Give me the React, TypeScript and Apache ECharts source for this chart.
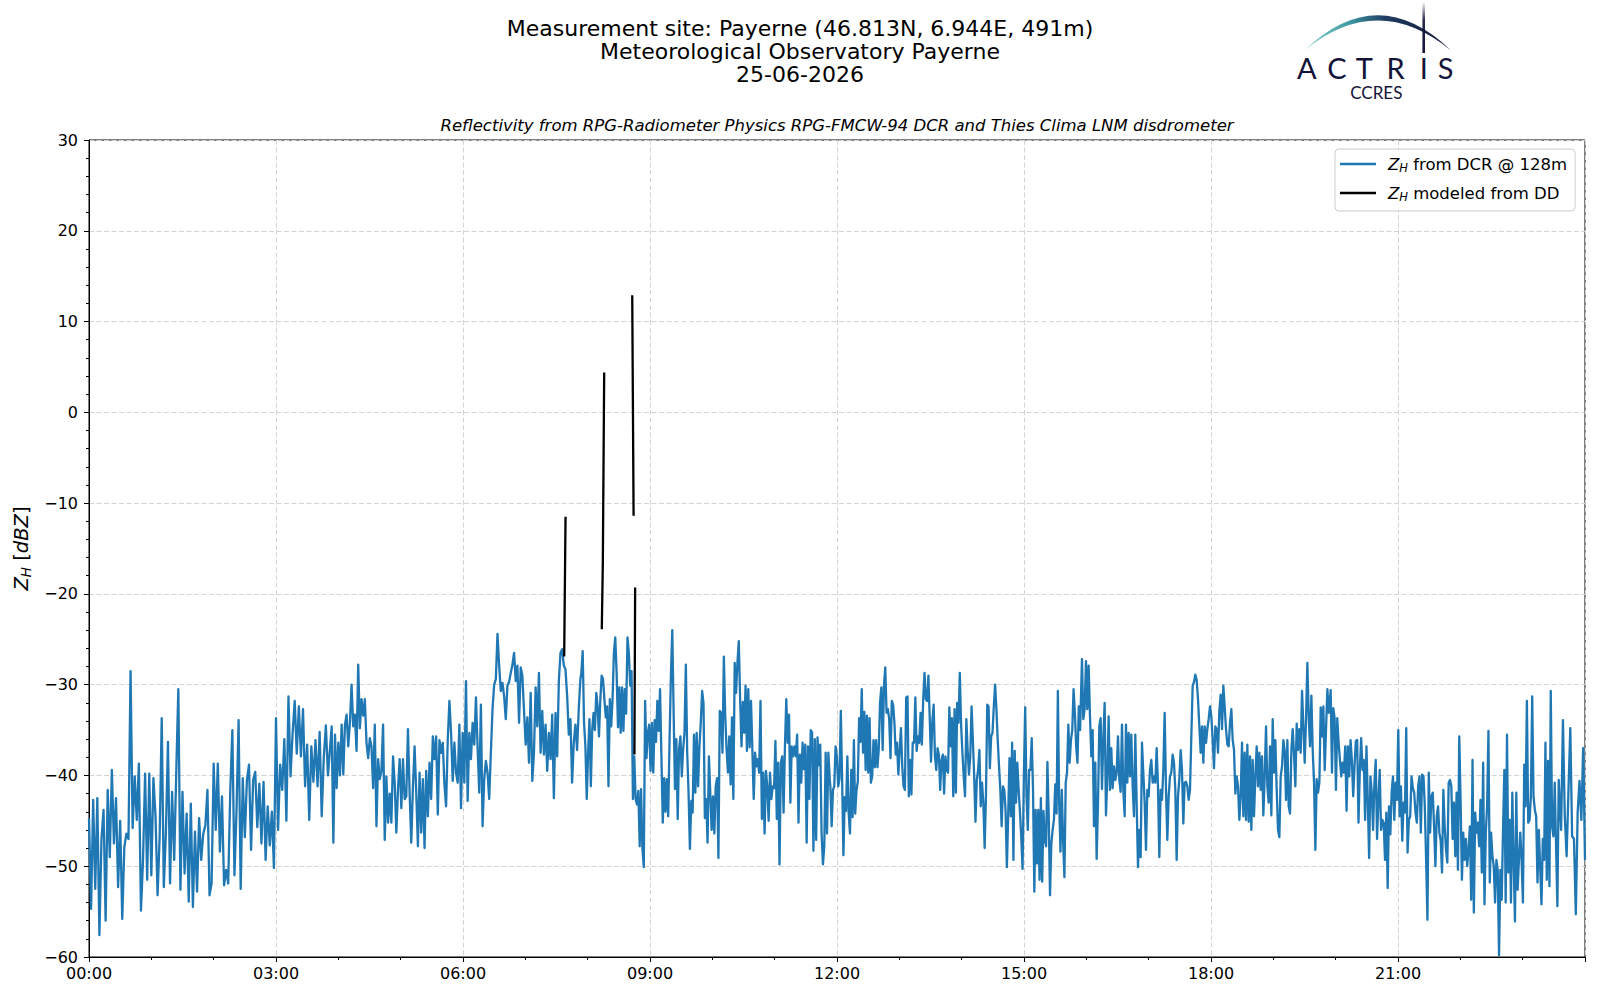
import React, { useEffect, useRef } from 'react';
import * as echarts from 'echarts';

const titleLines = [
  'Measurement site: Payerne (46.813N, 6.944E, 491m)',
  'Meteorological Observatory Payerne',
  '25-06-2026',
];
const subtitle = 'Reflectivity from RPG-Radiometer Physics RPG-FMCW-94 DCR and Thies Clima LNM disdrometer';
const seriesNames = ['dcr', 'dd'];
const legendLabels = ['{i|Z}{s|H}{t| from DCR @ 128m}', '{i|Z}{s|H}{t| modeled from DD}'];
const yAxisName = '{I|Z}{S|H}{T| [}{I|dBZ}{T|]}';
const logoLetters = ['A', 'C', 'T', 'R', 'I', 'S'];
const logoLetterX = [1306.7, 1337, 1364.3, 1395.7, 1423.7, 1445.7];

// time spans (minutes since 00:00) of each block of DCR readings
const dcrSpans = [
  [0, 230],
  [233.6, 473],
  [473.9, 713],
  [713.6, 954],
  [955.8, 1193.3],
  [1193.9, 1414.7],
  [1417, 1440],
];

const dcrA = [
  -44.7, -54.7, -42.7, -52.5, -42.5, -57.6, -47, -43.8, -56, -41.6,
  -49, -39.4, -47.5, -42.5, -52.3, -45, -55.8, -47.9, -46.4, -47,
  -28.5, -45.8, -40.1, -44.9, -38.7, -54.9, -49.3, -39.8, -51.5, -39.8,
  -51, -40.3, -44.4, -53.2, -46.8, -33.7, -52.3, -46.4, -36.3, -51.9,
  -41.8, -49.3, -39.6, -30.5, -52.6, -41.8, -50.8, -44.2, -53.9, -43.1,
  -54.5, -46.2, -52.8, -44.7, -49.3, -46.4, -45.5, -41.6, -53.2, -51.9,
  -38.7, -46, -38.7, -48.4, -42.3, -52.1, -50.4, -51.9, -41.6, -35,
  -51, -43.8, -33.9, -52.5, -40.3, -46.8, -40.5, -38.8, -48.2, -40.5,
  -39.6, -45.7, -40.9, -47.5, -40.7, -49.3, -43.4, -47.7, -44, -50.2,
  -33.7, -46, -38.8, -41.6, -36, -45, -31.3, -40.1, -35.3, -31.8,
  -37.6, -32.4, -37.9, -32.7, -41.2, -36.6, -44.9, -36.8, -40.7, -36.1,
  -41.2, -35.2, -44.5, -38, -34.5, -40,
];

const dcrB = [
  -34.6, -47.4, -35.5, -41.4, -36.4, -40, -34.4, -39.9, -34.4, -33.3,
  -36.8, -34.2, -30, -34.6, -33.3, -37.3, -27.8, -34.8, -31.6, -33.4,
  -31.6, -36.4, -38.1, -35.9, -36.8, -41.4, -34.4, -45.6, -38.2, -40.4,
  -39.5, -34.4, -47.1, -40.1, -45.2, -42, -45.2, -37.9, -40.8, -46.3,
  -41.5, -38.2, -43.6, -38.2, -42.6, -42.3, -34.9, -41.9, -47.4, -41.2,
  -36.8, -41.9, -47.8, -39.7, -46.3, -40.4, -48, -39.5, -44.5, -38.6,
  -42.6, -35.7, -38.2, -35.7, -44.3, -36.1, -37.5, -36.4, -41, -43.4,
  -36.1, -31.8, -35.3, -40.6, -36.4, -39.7, -40.8, -34.4, -43.6, -35.3,
  -40.8, -29.6, -42.8, -35.3, -38.2, -34.2, -36.6, -31.4, -36.9, -41.9,
  -32.2, -45.6, -40.4, -38.4, -39.7, -42.6, -37.5, -32.7, -30, -29.4,
  -24.4, -27.9, -30.7, -29.8, -31.3, -33.8, -30.1, -29.7, -28.7, -27.8,
  -26.5, -29.6, -27.9, -34.2, -28.1, -29, -32.9, -36.6, -33.6, -38.6,
  -30.9, -40.6, -37.5, -30.3, -34.6, -28.7, -37.5, -32.9, -37.7, -34.4,
  -39.5, -35.3, -38.2, -33.3, -42.5, -33.1, -37.9, -29.6, -26.5, -26.1,
  -27.9, -28.3, -31.2, -35.5, -33.8, -40.8, -36.4, -34.4, -37.2, -32.7,
  -29.4,
];

const dcrC = [
  -28.7, -26.3, -34.2, -36.8, -42.6, -37.5, -33.8, -41.2, -35, -33.1,
  -35, -30.9, -32.4, -35.7, -31.6, -29, -29.4, -31.6, -33.6, -32.4,
  -41.2, -31.6, -34.6, -31.6, -26.5, -24.8, -28.7, -34.7, -30.3, -35.3,
  -30.3, -35.1, -30.5, -33.2, -24.8, -26.5, -30.1, -28.5, -42.6, -37.9,
  -42.6, -43.2, -41.7, -47.8, -41.5, -48, -50.1, -31.8, -38.1, -35.3,
  -34.4, -39.5, -34.2, -39.7, -33.9, -36.3, -31.8, -35.1, -30.5, -37.9,
  -45.2, -40.3, -44, -40.4, -44.5, -36, -29, -24, -33.1, -41.5,
  -36, -44.8, -37.1, -35.7, -40.1, -37.1, -35.3, -27.8, -37.5, -41.9,
  -48.1, -42.8, -44.1, -35.5, -41.9, -35.3, -41.2, -36.8, -34.2, -30.7,
  -32, -44.7, -42.6, -47.4, -37.9, -41.9, -46, -42.3, -46.4, -41.2,
  -40.3, -49.1, -32.9, -33.1, -37.5, -26.9, -33.4, -37.1, -39.7, -35.7,
  -41, -33.6, -42.6, -27.6, -30.9, -27.6, -25.2, -31.6, -36.8, -31.9,
  -35.3, -30.1, -37.3, -30.5, -36.9, -31.8, -37.1, -42.6, -37.5, -39,
  -38.2, -39.7, -31.8, -44.8, -39.7, -46.4, -39.5, -41.2, -45, -39.7,
  -42.6, -41.2, -41.4, -36.2, -44.8, -38.6, -49.8, -38.6, -37.9, -44.1,
  -36.8, -31.6, -36.4, -33.3, -43, -36.8, -37.9, -36.8, -37.9, -35.5,
  -45.2, -37.7, -40.8, -36.4, -39.3, -36.6, -47.4, -36.8, -42.6, -35,
  -35.3, -48.3, -36, -47.1, -35.8, -38.9, -36.6, -46.4, -49.8, -47.8,
  -37.5, -46.4, -37.5, -40.4,
];

const dcrD = [
  -41.2, -45.6, -41.6, -41.2, -36.8, -37.9, -41.2, -40.4, -32.9, -40.4,
  -48.8, -42.4, -43.9, -37.9, -44.1, -46.4, -39.4, -44.6, -36.1, -44.2,
  -41.6, -40.7, -33.7, -36.3, -30.5, -37.5, -33, -39.4, -33.4, -39.7,
  -33.7, -40.8, -40.1, -36.1, -39.1, -36.1, -39.1, -37.2, -32, -30.3,
  -37.2, -30.1, -28.1, -33.1, -32.7, -33.8, -38.1, -31.8, -32.2, -34.2,
  -37.7, -36.4, -39.9, -37.2, -34.8, -39, -41.2, -41.6, -31.4, -31.3,
  -42.3, -38.3, -42.1, -36.4, -36.4, -31.4, -37.3, -35.7, -36.4, -33.1,
  -36.6, -31.6, -28.7, -31.6, -31.8, -29, -33.7, -38.5, -34, -32.2,
  -37.9, -39.4, -37, -37.7, -41.6, -38.3, -37.7, -42, -37.9, -39.4,
  -39.7, -32.5, -36.8, -33.7, -42.3, -32.7, -41.9, -32, -34.2, -28.7,
  -34.4, -37.5, -40.1, -42.3, -33.8, -37.2, -39.9, -37.9, -32.4, -36.1,
  -40.1, -45.1, -40.5, -39.4, -37.2, -43.4, -40.8, -43, -48, -42.3,
  -32.2, -32.4, -39.2, -35.7, -35.3, -32.4, -30, -32.7, -36.1, -39,
  -41.6, -45.6, -41.2, -41.6, -43.8, -50.1, -44.5, -38.1, -44.5, -36.4,
  -49.3, -37.3, -43, -38.6, -41.6, -44, -46.8, -50.3, -40.1, -32.5,
  -42.3, -46, -39.4, -39.4, -35.9, -41.6, -52.8, -43.8, -49.7, -43.8,
  -51.5, -42.5, -51.7, -43.9, -47.1, -47.8, -38.5, -44.5, -53.2, -47.5,
  -46, -44.9, -41, -44.2, -30.7, -43, -48.4, -41.6, -47.1, -51.2,
  -40.8, -39.7, -34.4, -38.6, -36.1, -35, -30.5, -33.1, -36.8, -38.6,
  -32.4, -35,
];

const dcrE = [
  -27.2, -33.8, -32.7, -27.4, -32.7, -27.9, -33.4, -37.9, -35, -45.6,
  -38.6, -49.2, -43.2, -34.6, -33.7, -41.5, -36.1, -32, -44.4, -40.1,
  -33.5, -41.6, -37, -41.4, -39, -40.5, -39.7, -35.7, -40.5, -41.8,
  -34.4, -41.6, -44.5, -34.4, -40.8, -35.3, -40.1, -35.5, -41.2, -44.5,
  -35.5, -43, -50.1, -46, -49, -36.4, -39.7, -43, -48.2, -41.6,
  -42.3, -39.4, -38.3, -40.8, -40.1, -40.8, -37, -41.2, -49, -41.6,
  -42.7, -39.4, -33.1, -41.6, -47.1, -42.3, -40.1, -39.7, -37.7, -38.6,
  -41.6, -49.3, -42.3, -40.4, -37.2, -39.4, -45.3, -40.8, -40.7, -41.2,
  -42.7, -41.6, -35.7, -30.1, -29.7, -28.9, -29.5, -31.6, -34.6, -37.5,
  -34.6, -38.6, -34.6, -36.4, -34.9, -33.8, -32.4, -33.5, -36.1, -39.2,
  -34.6, -34.9, -37.5, -32.9, -31.1, -34.9, -30.1, -32.4, -34.9, -36.6,
  -36.8, -34.2, -32.7, -36.1, -37.2, -42, -40.1, -41.2, -44.9, -42.3,
  -36.4, -44.5, -37.5, -44.9, -36.6, -45.1, -37.9, -46, -38.3, -44.5,
  -40.1, -36.8, -41.2, -37.5, -41.6, -37.9, -44.4, -40.1, -34.6, -41.2,
  -43, -36.8, -44.4, -33.8, -39.7, -36.1, -41.6, -46, -46.8, -40.1,
  -39, -36.1, -37.3, -42.7, -36.1, -43.4, -44.2, -37.3, -34.9, -37.7,
  -41.2, -34.3, -37.2, -34.9, -37.5, -30.7, -34.6, -38.6, -33.8, -27.6,
  -33.5, -36.8, -31.2, -37.2, -40.8, -48.2, -40.4, -41.9, -40.8, -32.5,
  -35.7, -32.4, -39.4, -34.9, -30.5, -33.1,
];

const dcrF = [
  -32.6, -30.6, -39.7, -32.6, -33.7, -41.6, -33.7, -36.4, -38.3, -40.1,
  -38.6, -39.7, -36.8, -43.9, -36.8, -40.1, -36.1, -38.3, -42.3, -39,
  -36.2, -36.1, -45.2, -39.4, -35.9, -39.4, -38.3, -44.9, -36.8, -42.7,
  -49.1, -40.1, -41.9, -46, -40.8, -38.3, -47, -42.7, -39.4, -46,
  -44.9, -45.2, -49.3, -44.1, -52.4, -43.4, -46.5, -41.9, -40.1, -44.9,
  -40.8, -42.7, -35, -44.5, -41.2, -47.2, -43, -44.1, -34.8, -48.5,
  -44.9, -44.5, -40.1, -41.4, -41.9, -44.1, -45.2, -41.2, -40.1, -46.3,
  -39.9, -40.1, -43.4, -49.3, -55.9, -39.7, -46.3, -42.3, -41.9, -45.6,
  -50, -44.5, -43.4, -46.3, -47.2, -50.7, -41.6, -45.6, -48.2, -49.6,
  -40.8, -40.5, -41.2, -47, -43, -48.9, -41.9, -50.4, -35.7, -42.7,
  -51.5, -46.3, -49.3, -47, -50, -48.2, -45.6, -53.7, -38.3, -55.1,
  -44.1, -46.3, -45.2, -47.8, -42.7, -50.7, -38.6, -54.2, -46.3, -43.4,
  -35.1, -51.8, -46.3, -48.9, -50, -54, -49.3, -50.4, -59.8, -50.4,
  -53.7, -45.9, -39.4, -54, -35.5, -50.7, -44.9, -54, -41.9, -49.3,
  -56.1, -41.9, -52.6, -49.3, -46.3, -49.3, -54, -38.8, -43.4, -31.8,
  -45.2, -44.9, -42.3, -31.3, -42.3, -43.8, -44.5, -51.8, -46, -50,
  -54.2, -47, -49.3, -36.4, -51.5, -38.4, -52.2, -30.7, -45.6, -46.7,
  -40.8, -47.8, -54.4, -40.5,
];

const dcrG = [-46, -33.9, -44.5, -48.9, -41.7, -34.8, -46.7, -47, -55.3, -44.1, -40.6, -44.9, -37, -49.3];

// disdrometer-modelled reflectivity: null values break the line
const ddTimes = [457.4, 458.7, 459.5, 493.6, 494.6, 495.9, 496.5, 522.9, 524.2, 524.6, 525.0, 525.7];
const ddValues = [-26.9, -11.5, null, -23.9, -16.5, 4.4, null, 12.9, -11.4, null, -37.7, -19.3];

const FONT = 'DejaVu Sans';

function fmtTime(v: number): string {
  const h = Math.floor(v / 60);
  const m = Math.round(v % 60);
  return `${String(h).padStart(2, '0')}:${String(m).padStart(2, '0')}`;
}

const richStyles = {
  i: { fontFamily: FONT, fontStyle: 'italic', fontSize: 16.5, lineHeight: 20, color: '#000' },
  s: { fontFamily: FONT, fontStyle: 'italic', fontSize: 11.5, lineHeight: 12, padding: [8, 0, 0, 0], color: '#000' },
  t: { fontFamily: FONT, fontSize: 16.5, lineHeight: 20, color: '#000' },
  I: { fontFamily: FONT, fontStyle: 'italic', fontSize: 19.5, lineHeight: 23, color: '#000' },
  S: { fontFamily: FONT, fontStyle: 'italic', fontSize: 13.5, lineHeight: 14, padding: [9, 0, 0, 0], color: '#000' },
  T: { fontFamily: FONT, fontSize: 19.5, lineHeight: 23, color: '#000' },
};

let shapeRegistered = false;

export default function App() {
  const ref = useRef<HTMLDivElement>(null);

  useEffect(() => {
    if (!ref.current) return;
    if (!shapeRegistered) {
      const ArcShape = echarts.graphic.extendPath('M1305 50 Q1378 -19.5 1451 50.5 Q1378 -9 1305 50 Z', {});
      echarts.graphic.registerShape('actrisArc', ArcShape);
      shapeRegistered = true;
    }
    const chart = echarts.init(ref.current, undefined, { renderer: 'svg' });

    const blocks = [dcrA, dcrB, dcrC, dcrD, dcrE, dcrF, dcrG];
    const dcrData: number[][] = [];
    blocks.forEach((vals, b) => {
      const [s, e] = dcrSpans[b];
      const step = (e - s) / (vals.length - 1);
      vals.forEach((v, i) => dcrData.push([s + i * step, v]));
    });
    const ddData = ddTimes.map((t, i) => [t, ddValues[i] === null ? '-' : ddValues[i]]);

    const logoColor = '#13133a';
    const letterEls = logoLetters.map((l, i) => ({
      type: 'text',
      x: logoLetterX[i],
      y: 67,
      style: { text: l, fontSize: 29, fontFamily: 'Lato', fill: logoColor, align: 'center', verticalAlign: 'middle' },
    }));

    chart.setOption({
      animation: false,
      backgroundColor: '#fff',
      title: {
        text: titleLines.join('\n'),
        left: 'center',
        top: 12,
        textStyle: { fontFamily: FONT, fontSize: 22, fontWeight: 'normal', color: '#000', lineHeight: 23 },
      },
      legend: {
        data: seriesNames,
        orient: 'vertical',
        left: 1335,
        top: 149,
        icon: 'rect',
        itemWidth: 36,
        itemHeight: 2.5,
        itemGap: 9,
        padding: [5, 8, 8, 5],
        borderColor: '#cccccc',
        borderWidth: 1,
        borderRadius: 4,
        backgroundColor: 'rgba(255,255,255,0.8)',
        formatter: (name: string) => legendLabels[seriesNames.indexOf(name)],
        textStyle: { fontFamily: FONT, fontSize: 16.5, color: '#000', padding: [0, 0, 0, 7], rich: richStyles },
      },
      grid: {
        left: 89,
        right: 15,
        top: 140,
        bottom: 43,
        show: true,
        borderColor: '#000',
        borderWidth: 1,
        backgroundColor: 'transparent',
        containLabel: false,
        outerBoundsMode: 'none',
      },
      xAxis: {
        type: 'value',
        min: 0,
        max: 1440,
        interval: 180,
        axisLine: { show: true, onZero: false, lineStyle: { color: '#000', width: 1 } },
        axisTick: { show: true, inside: false, length: 5, lineStyle: { color: '#000' } },
        minorTick: { show: true, splitNumber: 3, length: 3, lineStyle: { color: '#000' } },
        axisLabel: {
          formatter: (v: number) => fmtTime(v),
          fontFamily: FONT,
          fontSize: 16,
          color: '#000',
          margin: 8,
          showMaxLabel: false,
        },
        splitLine: { show: true, lineStyle: { color: '#d3d3d3', type: [5, 2.5], width: 1 } },
      },
      yAxis: {
        type: 'value',
        min: -60,
        max: 30,
        interval: 10,
        name: yAxisName,
        nameLocation: 'middle',
        nameRotate: 90,
        nameGap: 52,
        nameTextStyle: { fontFamily: FONT, fontSize: 19.5, color: '#000', rich: richStyles },
        axisLine: { show: true, onZero: false, lineStyle: { color: '#000', width: 1 } },
        axisTick: { show: true, inside: false, length: 5, lineStyle: { color: '#000' } },
        minorTick: { show: true, splitNumber: 5, length: 3, lineStyle: { color: '#000' } },
        axisLabel: {
          formatter: (v: number) => String(v).replace('-', '\u2212'),
          fontFamily: FONT,
          fontSize: 16,
          color: '#000',
          margin: 11,
        },
        splitLine: { show: true, lineStyle: { color: '#d3d3d3', type: [5, 2.5], width: 1 } },
      },
      series: [
        {
          name: seriesNames[0],
          type: 'line',
          data: dcrData,
          symbol: 'none',
          showSymbol: false,
          lineStyle: { color: '#1f77b4', width: 2.3, join: 'round' },
          itemStyle: { color: '#1f77b4' },
          z: 2,
          silent: true,
        },
        {
          name: seriesNames[1],
          type: 'line',
          data: ddData,
          symbol: 'none',
          showSymbol: false,
          connectNulls: false,
          lineStyle: { color: '#000', width: 2.3, join: 'round' },
          itemStyle: { color: '#000' },
          z: 3,
          silent: true,
        },
      ],
      graphic: {
        elements: [
          {
            type: 'text',
            x: 837,
            y: 125.5,
            style: {
              text: subtitle,
              fontFamily: FONT,
              fontStyle: 'italic',
              fontSize: 16.5,
              fill: '#000',
              align: 'center',
              verticalAlign: 'middle',
            },
          },
          {
            type: 'actrisArc',
            x: 0,
            y: 0,
            style: {
              fill: new echarts.graphic.LinearGradient(0, 0, 1, 0, [
                { offset: 0, color: '#8ad3cc' },
                { offset: 0.3, color: '#3f9aa3' },
                { offset: 0.55, color: '#1f3d62' },
                { offset: 1, color: '#141438' },
              ]),
            },
          },
          {
            type: 'rect',
            shape: { x: 1422.4, y: 2, width: 2.6, height: 51 },
            style: {
              fill: new echarts.graphic.LinearGradient(0, 2, 0, 53, [
                { offset: 0, color: 'rgba(19,19,58,0)' },
                { offset: 0.35, color: 'rgba(19,19,58,0.9)' },
                { offset: 1, color: logoColor },
              ], true),
            },
          },
          ...letterEls,
          {
            type: 'text',
            x: 1376.3,
            y: 92.5,
            style: { text: 'CCRES', fontSize: 17, fontFamily: 'Lato', fill: logoColor, align: 'center', verticalAlign: 'middle' },
          },
        ],
      },
    });

    return () => {
      chart.dispose();
    };
  }, []);

  return (
    <div
      ref={ref}
      style={{ position: 'fixed', left: 0, top: 0, width: 1600, height: 1000, background: '#fff' }}
    />
  );
}
